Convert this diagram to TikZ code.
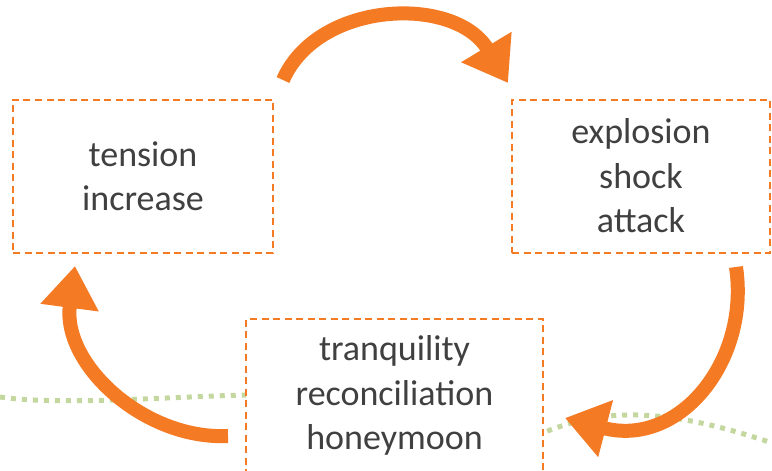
\documentclass[tikz,border=0pt]{standalone}
\usepackage{fontspec}
\setmainfont{Carlito}
\usetikzlibrary{arrows.meta}
\definecolor{cycorange}{HTML}{F47A24}
\definecolor{cyctext}{HTML}{404040}
\definecolor{cycgreen}{HTML}{C4D79F}
\tikzset{
  phase/.style={draw=cycorange, line width=2pt, dash pattern=on 7pt off 4.5pt,
    fill=white, align=center, text=cyctext,
    font=\fontsize{36}{44.5}\selectfont, inner sep=0pt},
  cyclearrow/.style={draw=cycorange, line width=14pt,
    -{Triangle[width=56pt,length=42pt]}},
  baseline/.style={draw=cycgreen, line width=5pt, dash pattern=on 5pt off 6pt}
}
\begin{document}
\begin{tikzpicture}[x=1pt,y=-1pt]
\useasboundingbox (0,0) rectangle (772,471);

% wavy dotted line running behind the lower box
\coordinate (gl) at (0,397);
\coordinate (gr) at (772,443);
\draw[baseline] (gl) .. controls (60,406) and (180,396) .. (250,395)
  -- (545,432) .. controls (600,410) and (660,405) .. (gr);

% the three phases
\node[phase, minimum width=260pt, minimum height=153pt] (tension) at (143,176)
  {tension\\increase};
\node[phase, minimum width=258pt, minimum height=153pt] (explosion) at (641,176)
  {explosion\\shock\\attack};
\node[phase, minimum width=297pt, minimum height=153pt] (calm) at (394.5,395.5)
  {tranquility\\reconciliation\\honeymoon};

% curved arrows between the phases
\coordinate (a1s) at (283,80);
\coordinate (a1e) at (508,83);
\coordinate (a2s) at (736,267);
\coordinate (a2e) at (565,418);
\coordinate (a3s) at (228,436);
\coordinate (a3e) at (75,266);
\draw[cyclearrow] (a1s) .. controls (318,0) and (455,-5) .. (a1e);
\draw[cyclearrow] (a2s) .. controls (750,360) and (680,448) .. (a2e);
\draw[cyclearrow] (a3s) .. controls (145,440) and (62,365) .. (a3e);
\end{tikzpicture}
\end{document}
